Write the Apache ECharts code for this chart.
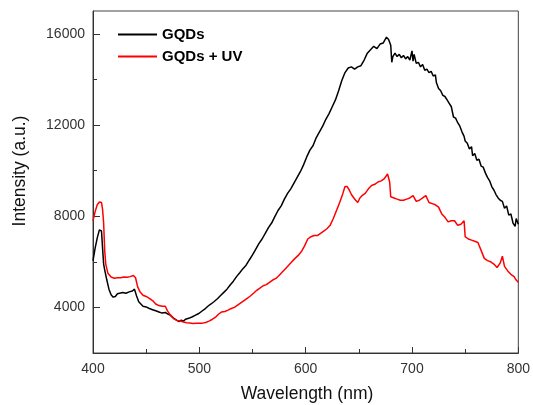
<!DOCTYPE html>
<html>
<head>
<meta charset="utf-8">
<script src="https://cdn.jsdelivr.net/npm/echarts@6/dist/echarts.min.js"></script>
<style>html,body{margin:0;padding:0;background:#fff;}#c{width:533px;height:405px;}</style>
</head>
<body>
<div id="c"></div>
<script>
// Wavelength (nm) and intensity (a.u.)
var gqdsWavelength = [400,402,404,406,407,408,409,410,411,413,415,417,419,421,423,425,428,431,434,437,439,441,443,445,447,450,453,456,459,462,465,468,470,473,476,479,481,483,485,487,490,493,496,499,502,505,508,511,514,517,520,523,526,529,532,535,538,541,544,547,550,553,556,559,562,565,568,571,574,577,580,583,586,589,592,595,598,601,604,607,610,613,616,619,622,625,628,631,634,637,640,643,646,649,652,655,658,661,664,667,670,673,676,678,680,681,682,684,686,688,690,692,694,696,698,700,701,702,704,706,708,710,712,714,716,718,720,722,723,725,727,729,731,733,735,737,739,741,743,745,747,749,750,752,754,756,757,759,761,763,765,767,769,771,773,775,777,779,781,783,785,787,789,791,793,795,797,798,800];
var gqdsIntensity = [6050,6600,7050,7400,7450,7350,6600,5900,5650,5200,4800,4550,4450,4480,4600,4620,4650,4620,4680,4720,4800,4500,4250,4150,4050,4020,3950,3900,3850,3800,3750,3780,3720,3650,3520,3430,3380,3440,3400,3480,3520,3580,3650,3720,3820,3920,4050,4150,4260,4380,4520,4660,4800,4980,5150,5350,5520,5700,5850,6080,6300,6550,6800,7000,7250,7500,7700,7980,8250,8450,8750,9000,9200,9450,9700,9950,10250,10600,10900,11100,11450,11700,11950,12250,12500,12800,13100,13500,13950,14300,14500,14550,14450,14550,14600,14850,15150,15300,15450,15350,15550,15600,15850,15750,15500,14750,15000,15150,15000,15100,14950,15050,14900,15000,14850,15250,14800,15100,14700,14750,14550,14650,14400,14450,14300,14350,14150,14200,13850,13600,13500,13300,13250,13100,12950,12800,12350,12300,12100,11950,11700,11500,11300,11200,10950,11050,10650,10750,10450,10500,10200,10150,9900,9700,9550,9300,9150,8950,8800,8700,8650,8350,8450,8050,8100,7700,7550,7900,7650];

var uvWavelength = [400,402,404,406,408,409,410,411,412,414,417,420,423,426,429,432,435,438,440,442,444,447,450,453,456,459,462,465,468,470,473,476,479,482,485,488,491,494,497,500,503,506,509,512,515,518,521,524,527,530,533,536,539,542,545,548,551,554,557,560,563,566,569,572,575,578,581,584,587,590,593,596,599,602,605,608,611,614,617,620,623,626,629,632,635,637,639,641,643,645,647,649,651,653,656,659,662,665,668,671,674,677,678,679,680,683,686,689,692,695,698,701,704,707,710,713,716,719,722,725,728,731,734,737,740,743,746,749,750,753,756,759,762,765,768,771,774,777,780,783,785,787,790,793,796,798,800];
var uvIntensity = [7800,8200,8500,8620,8600,8300,7700,6500,5900,5500,5330,5280,5300,5300,5330,5320,5350,5400,5300,4900,4700,4530,4480,4400,4300,4150,4080,4050,4050,3850,3650,3500,3430,3400,3360,3330,3320,3290,3300,3300,3310,3340,3400,3470,3560,3700,3800,3820,3880,3950,4000,4100,4200,4300,4400,4500,4620,4750,4850,4950,5000,5100,5200,5270,5400,5550,5700,5850,6000,6150,6280,6450,6700,7000,7100,7150,7150,7250,7350,7450,7600,7900,8250,8600,9000,9300,9300,9150,8950,8820,8700,8600,8800,8900,9000,9200,9350,9400,9500,9550,9650,9850,9800,9500,8850,8800,8750,8700,8700,8750,8800,8900,8650,8700,8800,8900,8600,8550,8500,8400,8100,7950,7750,7800,7800,7600,7650,7800,7100,7000,6950,6900,6850,6500,6150,6050,6000,5900,5750,5950,6250,5800,5600,5450,5350,5200,5100];

var yMajorTicks = [4000, 8000, 12000, 16000];
var yMinorTicks = [6000, 10000, 14000];

function pairs(xs, ys) { return xs.map(function (x, i) { return [x, ys[i]]; }); }
function plain(v) { return String(v); }

var chart = echarts.init(document.getElementById('c'), null, {renderer: 'canvas'});
var labelFont = 'Liberation Sans, Arial, sans-serif';
chart.setOption({
  animation: false,
  backgroundColor: '#fff',
  grid: {left: 93, right: 12, top: 11, bottom: 52, show: true, borderColor: '#444', borderWidth: 1, backgroundColor: 'transparent'},
  legend: {
    orient: 'vertical', left: 117, top: 27, padding: 0, itemWidth: 39, itemHeight: 14, itemGap: 7,
    itemStyle: {opacity: 0, borderWidth: 0},
    textStyle: {fontFamily: labelFont, fontWeight: 'bold', fontSize: 15, color: '#000'},
    data: ['GQDs', 'GQDs + UV']
  },
  xAxis: {
    type: 'value', min: 400, max: 800, interval: 100,
    axisLine: {lineStyle: {color: '#333', width: 1}},
    axisTick: {inside: true, length: 6, lineStyle: {color: '#333'}},
    minorTick: {show: true, splitNumber: 2, length: 4, lineStyle: {color: '#333'}},
    axisLabel: {margin: 9, fontFamily: labelFont, fontSize: 14, color: '#333', formatter: plain},
    splitLine: {show: false}
  },
  yAxis: [{
    type: 'value', min: 2000, max: 17000,
    axisLine: {show: true, lineStyle: {color: '#333', width: 1}},
    axisTick: {show: true, inside: true, length: 7, customValues: yMajorTicks, lineStyle: {color: '#333'}},
    axisLabel: {margin: 8, fontFamily: labelFont, fontSize: 14, color: '#333', customValues: yMajorTicks, formatter: plain},
    splitLine: {show: false}
  }, {
    type: 'value', min: 2000, max: 17000, position: 'left',
    axisLine: {show: false},
    axisTick: {show: true, inside: true, length: 4, customValues: yMinorTicks, lineStyle: {color: '#333'}},
    axisLabel: {show: false},
    splitLine: {show: false}
  }],
  graphic: [
    {type: 'text', x: 20, y: 171, rotation: Math.PI / 2,
     style: {text: 'Intensity (a.u.)', fontFamily: labelFont, fontSize: 17.5, fill: '#111', align: 'center', verticalAlign: 'middle'}},
    {type: 'text', x: 307, y: 394,
     style: {text: 'Wavelength (nm)', fontFamily: labelFont, fontSize: 17.5, fill: '#111', align: 'center', verticalAlign: 'middle'}}
  ],
  series: [
    {name: 'GQDs', type: 'line', symbol: 'none', data: pairs(gqdsWavelength, gqdsIntensity),
     lineStyle: {color: '#000', width: 1.5}, itemStyle: {color: '#000'}},
    {name: 'GQDs + UV', type: 'line', symbol: 'none', data: pairs(uvWavelength, uvIntensity),
     lineStyle: {color: '#ff0000', width: 1.5}, itemStyle: {color: '#ff0000'}}
  ]
});
</script>
</body>
</html>
